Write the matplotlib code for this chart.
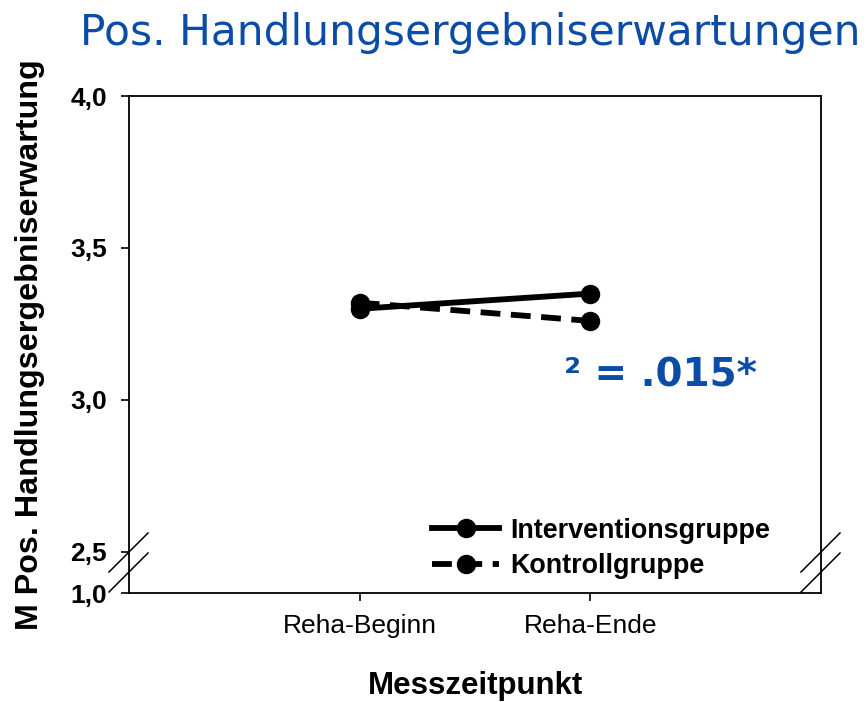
import matplotlib.pyplot as plt
from matplotlib.lines import Line2D

zeitpunkte = ["Reha-Beginn", "Reha-Ende"]
intervention = [3.30, 3.35]
kontrolle = [3.32, 3.26]
ytick_werte = [2.365, 2.5, 3.0, 3.5, 4.0]
ytick_labels = ["1,0", "2,5", "3,0", "3,5", "4,0"]

blau = "#0a4ca6"
arial = ["Liberation Sans", "DejaVu Sans"]

fig = plt.figure(figsize=(8.68, 7.02), dpi=100)
ax = fig.add_axes([129 / 868, 109 / 702, 692 / 868, 497 / 702])

x = [1, 2]
ax.plot(x, kontrolle, color="black", lw=4.2, ls=(0, (3.4, 1.8)), marker="o",
        ms=13, label="Kontrollgruppe", zorder=3)
ax.plot(x, intervention, color="black", lw=4.2, marker="o", ms=13,
        label="Interventionsgruppe", zorder=4)

ax.set_xlim(0, 3)
ax.set_ylim(2.365, 4.0)
ax.set_xticks(x)
ax.set_xticklabels(zeitpunkte, family=arial, fontsize=19)
ax.set_yticks(ytick_werte)
ax.set_yticklabels(ytick_labels, family=arial, fontsize=19, fontweight="bold")
ax.tick_params(direction="out", length=6, width=1.2)
ax.tick_params(axis="y", pad=10)
ax.tick_params(axis="x", pad=9)
for s in ax.spines.values():
    s.set_linewidth(1.3)

fig.text(476 / 868, 1 - 686 / 702, "Messzeitpunkt", family=arial, fontsize=22.5,
         fontweight="bold", ha="center", va="center")
fig.text(30 / 868, 1 - 345 / 702, "M Pos. Handlungsergebniserwartung", family=arial,
         fontsize=23.2, fontweight="bold", rotation=90, ha="center", va="center")

# Achsenbruch-Zeichen
for xs in (129, 821):
    for y0 in (572, 592):
        fig.add_artist(Line2D([(xs - 20) / 868, (xs + 19) / 868],
                              [1 - y0 / 702, 1 - (y0 - 39) / 702],
                              transform=fig.transFigure, color="black", lw=1.1))

handles, labels = ax.get_legend_handles_labels()
ax.legend(handles[::-1], labels[::-1], loc="center left", bbox_to_anchor=(0.438, 0.09),
          frameon=False, borderpad=0, borderaxespad=0, handlelength=2.5,
          handletextpad=0.4, labelspacing=0.35,
          prop={"family": arial, "size": 19.4, "weight": "bold"})

ax.text(0.9075, 0.4386, "² = .015*", transform=ax.transAxes, color=blau, fontsize=28,
        fontweight="bold", family="DejaVu Sans", ha="right", va="center")

fig.text(470 / 868, 1 - 33 / 702, "Pos. Handlungsergebniserwartungen", color=blau,
         fontsize=30.5, family="DejaVu Sans", ha="center", va="center")

fig.savefig("out.png", dpi=100)
